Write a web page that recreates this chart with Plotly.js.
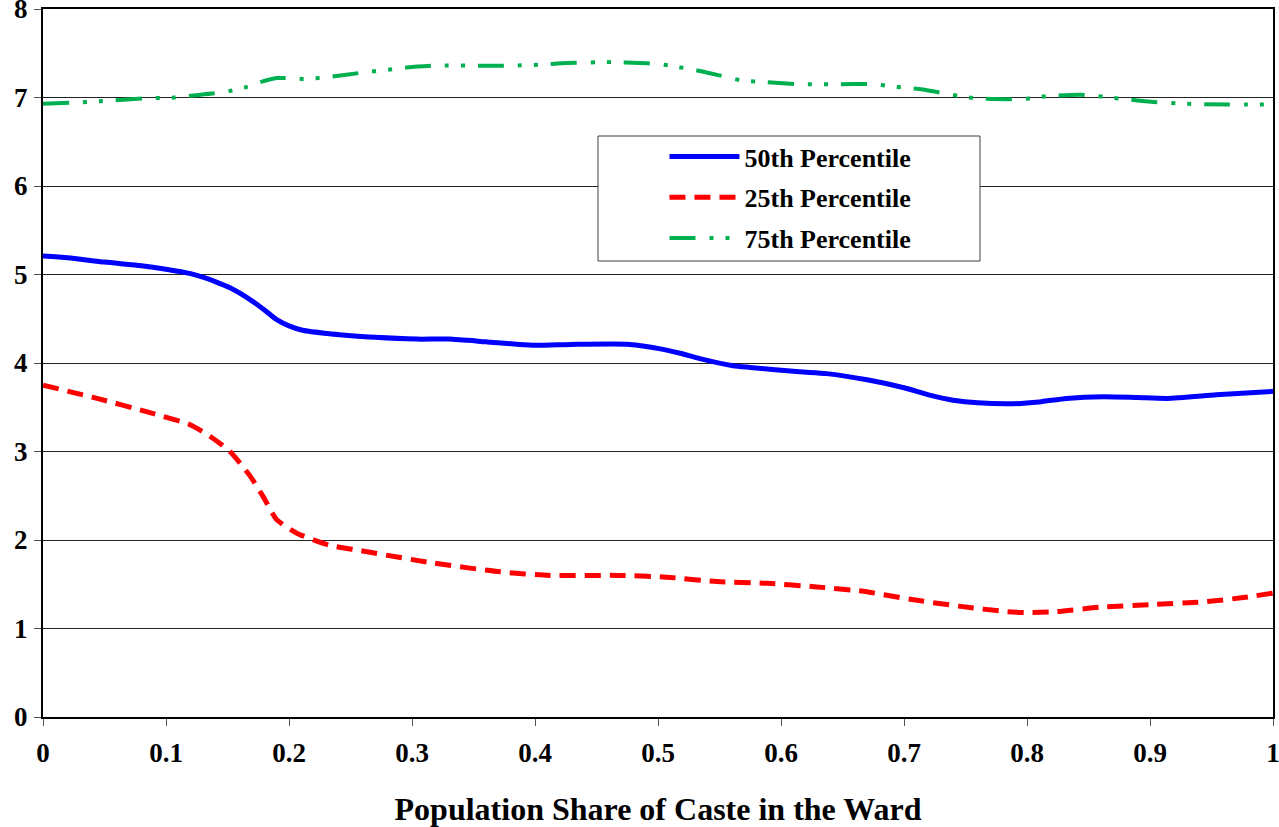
<!DOCTYPE html>
<html>
<head>
<meta charset="utf-8">
<script src="https://cdn.plot.ly/plotly-3.0.1.min.js"></script>
<style>html,body{margin:0;padding:0;background:#fff;}#chart{width:1279px;height:827px;}</style>
</head>
<body>
<div id="chart"></div>
<script>
const seriesNames = ["50th Percentile", "25th Percentile", "75th Percentile"];
const xTickVals = [0,0.1,0.2,0.3,0.4,0.5,0.6,0.7,0.8,0.9,1];
const xTickText = ["0","0.1","0.2","0.3","0.4","0.5","0.6","0.7","0.8","0.9","1"];
const yTickVals = [0,1,2,3,4,5,6,7,8];

const x50 = [0,0.02,0.05,0.08,0.1,0.12,0.13,0.14,0.152,0.168,0.18,0.19,0.2,0.211,0.233,0.241,0.27,0.304,0.33,0.36,0.398,0.43,0.477,0.502,0.518,0.534,0.561,0.575,0.615,0.637,0.67,0.70,0.72,0.74,0.76,0.789,0.81,0.832,0.862,0.89,0.914,0.954,1.0];
const y50 = [5.21,5.19,5.14,5.10,5.06,5.01,4.97,4.92,4.85,4.72,4.60,4.49,4.42,4.37,4.33,4.32,4.29,4.27,4.27,4.24,4.20,4.21,4.21,4.16,4.11,4.05,3.97,3.95,3.90,3.88,3.81,3.72,3.64,3.58,3.55,3.54,3.56,3.60,3.62,3.61,3.60,3.64,3.68];

const x25 = [0,0.044,0.084,0.12,0.136,0.152,0.168,0.179,0.19,0.206,0.233,0.258,0.317,0.372,0.412,0.467,0.507,0.548,0.589,0.629,0.667,0.705,0.746,0.784,0.802,0.824,0.859,0.9,0.943,0.976,1.0];
const y25 = [3.75,3.60,3.45,3.30,3.17,3.00,2.73,2.49,2.23,2.08,1.94,1.88,1.74,1.64,1.60,1.60,1.58,1.53,1.51,1.47,1.42,1.33,1.25,1.19,1.18,1.19,1.24,1.27,1.30,1.35,1.40];

const x75 = [0,0.022,0.048,0.083,0.107,0.12,0.141,0.154,0.166,0.178,0.19,0.2,0.212,0.225,0.237,0.259,0.284,0.296,0.319,0.355,0.38,0.404,0.426,0.463,0.485,0.498,0.51,0.534,0.556,0.569,0.581,0.615,0.641,0.676,0.688,0.701,0.715,0.735,0.748,0.76,0.784,0.796,0.807,0.82,0.844,0.854,0.867,0.88,0.903,0.927,0.963,1.0];
const y75 = [6.93,6.94,6.96,6.99,7.00,7.02,7.05,7.08,7.12,7.18,7.22,7.22,7.21,7.22,7.24,7.28,7.32,7.34,7.36,7.36,7.36,7.37,7.39,7.40,7.39,7.38,7.36,7.30,7.23,7.19,7.18,7.15,7.15,7.15,7.13,7.11,7.09,7.04,7.01,6.99,6.98,6.98,7.00,7.02,7.03,7.02,7.00,6.98,6.95,6.93,6.92,6.92];

const font = "Liberation Serif";

const traces = [
  {x: x50, y: y50, name: seriesNames[0], mode: "lines", legendgroup: "a",
   line: {color: "#0000FF", width: 5, shape: "spline", smoothing: 0.6}},
  {x: x25, y: y25, name: seriesNames[1], mode: "lines", legendgroup: "b",
   line: {color: "#FF0000", width: 5, dash: "16px,9px", shape: "spline", smoothing: 0.6}},
  {x: x75, y: y75, name: seriesNames[2], mode: "lines", legendgroup: "c",
   line: {color: "#00B050", width: 4, dash: "26px,14px,4px,12px,4px,13px", shape: "spline", smoothing: 0.6}}
];

const layout = {
  width: 1279, height: 827,
  margin: {l: 43, r: 6, t: 9, b: 110},
  paper_bgcolor: "#fff", plot_bgcolor: "#fff",
  font: {family: font, color: "#000", size: 26, weight: "bold"},
  showlegend: true,
  legend: {
    x: (669-43)/1230 - 0.011 + 9/1230, y: (717-133)/708, xanchor: "left", yanchor: "top",
    bgcolor: "rgba(0,0,0,0)", borderwidth: 0,
    font: {family: font, size: 26, color: "#000", weight: "bold"},
    traceorder: "grouped", tracegroupgap: 4, itemwidth: 70
  },
  shapes: [{
    type: "rect", xref: "paper", yref: "paper",
    x0: (598-43)/1230, x1: (980-43)/1230,
    y0: (717-261)/708, y1: (717-136)/708,
    line: {color: "#404040", width: 1}, fillcolor: "#fff", layer: "above"
  }],
  xaxis: {
    range: [0, 1], tickvals: xTickVals, ticktext: xTickText, ticklabeloverflow: "allow",
    showgrid: false, zeroline: false,
    showline: true, linecolor: "#000", linewidth: 2, mirror: true,
    ticks: "outside", ticklen: 7, tickwidth: 1, tickcolor: "#555",
    ticklabelstandoff: 4,
    tickfont: {family: font, size: 27, color: "#000", weight: "bold"},
    title: {text: "Population Share of Caste in the Ward", standoff: 43,
            font: {family: font, size: 32, color: "#000", weight: "bold"}}
  },
  yaxis: {
    range: [0, 8], tickvals: yTickVals, ticklabeloverflow: "allow",
    showgrid: true, gridcolor: "#222", gridwidth: 1, zeroline: false,
    showline: true, linecolor: "#000", linewidth: 2, mirror: true,
    ticks: "outside", ticklen: 7, tickwidth: 1, tickcolor: "#555",
    ticklabelstandoff: 1,
    tickfont: {family: font, size: 27, color: "#000", weight: "bold"}
  }
};

Plotly.newPlot("chart", traces, layout, {displayModeBar: false, staticPlot: true});
</script>
</body>
</html>
